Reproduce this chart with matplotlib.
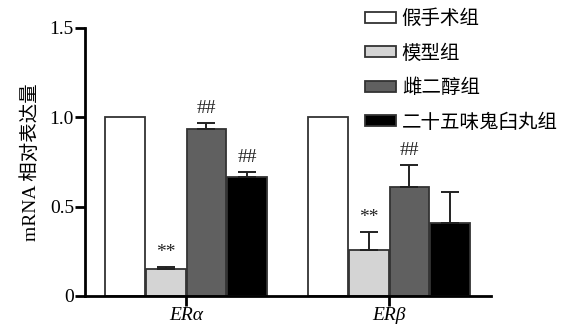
import matplotlib
matplotlib.use("Agg")
import matplotlib.pyplot as plt
import numpy as np

plt.rcParams['font.family'] = ['Liberation Serif', 'Noto Sans CJK SC']

genes = ['ERα', 'ERβ']
groups = ['假手术组', '模型组', '雌二醇组', '二十五味鬼臼丸组']
colors = ['#ffffff', '#d4d4d4', '#606060', '#000000']
values = {
    '假手术组': [1.0, 1.0],
    '模型组': [0.15, 0.255],
    '雌二醇组': [0.935, 0.61],
    '二十五味鬼臼丸组': [0.665, 0.41],
}
errors = {
    '假手术组': [0.0, 0.0],
    '模型组': [0.015, 0.105],
    '雌二醇组': [0.035, 0.125],
    '二十五味鬼臼丸组': [0.03, 0.17],
}
marks = {
    '假手术组': ['', ''],
    '模型组': ['**', '**'],
    '雌二醇组': ['##', '##'],
    '二十五味鬼臼丸组': ['##', ''],
}

fig = plt.figure(figsize=(5.64, 3.32), dpi=100)
ax = fig.add_axes([85/564, 36/332, (491-85)/564, (296-28)/332])

x = np.arange(len(genes))
width = 0.195
offsets = [-0.3, -0.1, 0.1, 0.3]
for g, c, off in zip(groups, colors, offsets):
    v = np.array(values[g]); e = np.array(errors[g])
    ax.bar(x + off, v, width=width, color=c, edgecolor='#333333', linewidth=1.3, label=g, zorder=2)
    sel = e > 0
    if sel.any():
        ax.errorbar((x + off)[sel], v[sel], yerr=[np.zeros(sel.sum()), e[sel]], fmt='none',
                    ecolor='#222222', elinewidth=1.4, capsize=6.5, capthick=1.4, zorder=3)
    for xi, vi, ei, m in zip(x + off, v, e, marks[g]):
        if m:
            ax.text(xi, vi + ei + 0.03, m, ha='center', va='bottom', fontsize=14, color='#222222')

ax.set_xlim(-0.4975, 1.502)
ax.set_ylim(0, 1.5)
ax.set_yticks([0, 0.5, 1.0, 1.5])
ax.set_yticklabels(['0', '0.5', '1.0', '1.5'], fontsize=14)
ax.set_xticks(x)
ax.set_xticklabels(genes, fontsize=14, style='italic')
ax.spines['top'].set_visible(False)
ax.spines['right'].set_visible(False)
ax.spines['left'].set_linewidth(2)
ax.spines['bottom'].set_linewidth(2)
ax.tick_params(axis='both', width=2, length=7, direction='out', pad=1)
ax.set_ylabel('mRNA 相对表达量', fontsize=14, labelpad=7)

fig.legend(loc='upper left', bbox_to_anchor=(357/564, 1 - 2/332), frameon=False,
           fontsize=14, handlelength=1.6, handleheight=0.5, labelspacing=0.82,
           handletextpad=0.3, borderaxespad=0)

fig.savefig('out.png', dpi=100)
